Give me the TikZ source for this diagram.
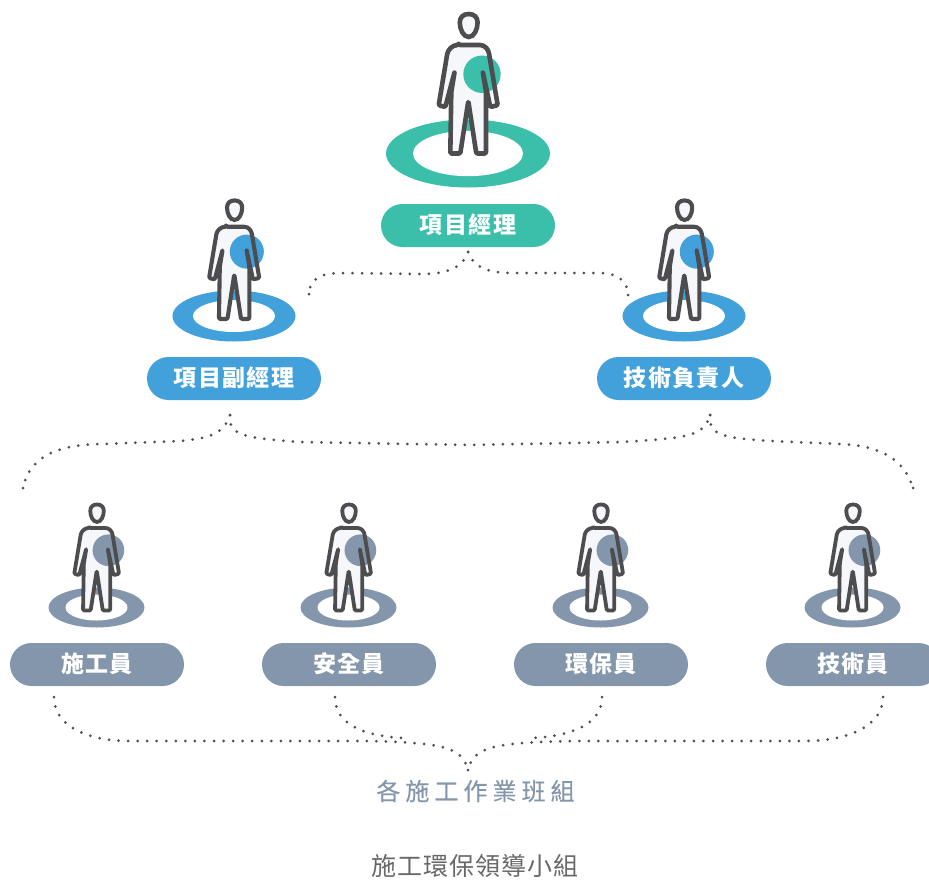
\documentclass[tikz,border=0pt]{standalone}
\usepackage{fontspec}
\newfontfamily\cjk{Noto Sans CJK TC}
\newfontfamily\cjkpill[LetterSpace=6]{Noto Sans CJK TC}
\newfontfamily\cjkteam[LetterSpace=21,FakeBold=0.25]{Noto Sans CJK TC}
\newfontfamily\cjkfoot[LetterSpace=4]{Noto Sans CJK TC}
\definecolor{teal1}{HTML}{3BBFAB}
\definecolor{blue1}{HTML}{42A0DB}
\definecolor{gray1}{HTML}{8496AB}
\definecolor{ink}{HTML}{4D4D4F}
\definecolor{skin}{HTML}{F5F7FA}
\tikzset{
  pill/.style={fill=#1, rounded corners=21.5pt, minimum width=174pt, minimum height=43pt,
     inner sep=0pt, text=white, text height=20pt, text depth=4.6pt,
     font=\cjkpill\bfseries\fontsize{23}{25}\selectfont},
  dots/.style={ink, line width=3pt, line cap=round, dash pattern=on 0pt off 9.55pt},
}
% #1 x, #2 y of the feet, #3 scale, #4 colour, #5 stroke, #6 ring offset, #7 rx/ry, #8 inner rx/ry
\newcommand{\person}[8]{
  \fill[#4] (#1,#2+#6) ellipse [#7];
  \fill[white] (#1,#2+#6) ellipse [#8];
  \begin{scope}[shift={(#1,#2)}, scale=#3]
    \def\body{(-9.3,-108.5) -- (10.7,-108.5) .. controls (17,-108.5) and (20.5,-104) .. (21.3,-98.3)
      -- (29.7,-48.3) -- (22.3,-46.5) -- (14.7,-82) -- (18,-61.7) -- (18,0) -- (8.3,0) -- (0.3,-52.5)
      -- (-7.7,0) -- (-17.7,0) -- (-16.7,-61.7) -- (-13.3,-82) -- (-22.7,-46.5) -- (-29.3,-48.3)
      -- (-21,-98.3) .. controls (-20,-104) and (-15.5,-108.5) .. (-9.3,-108.5) -- cycle}
    \def\head{(0.7,-139.5) .. controls (6.5,-139.5) and (9.6,-136) .. (9.6,-131)
      .. controls (9.6,-124) and (6,-116.5) .. (0.7,-116.5) .. controls (-4.6,-116.5) and (-8.2,-124) .. (-8.2,-131)
      .. controls (-8.2,-136) and (-5,-139.5) .. (0.7,-139.5) -- cycle}
    \pgfmathsetmacro{\rr}{18.7+(1-#3)*9}
    \pgfmathsetmacro{\cx}{14+(1-#3)*7}
    \fill[skin] \body;
    \fill[skin] \head;
    \fill[#4] (\cx,-79.3) circle (\rr);
    \draw[ink, line width=#5, line join=round, rounded corners=1.2pt] \body;
    \draw[ink, line width=#5] \head;
  \end{scope}
}

\begin{document}
\begin{tikzpicture}[x=1pt, y=-1pt]
  \useasboundingbox (0,0) rectangle (929,881);
  \clip (0,0) rectangle (929,881);

  %people
  \person{468}{153.5}{1}{teal1}{4.6pt}{0}{x radius=82, y radius=34}{x radius=55, y radius=22.7}
  \foreach \i in {234,684}{
    \person{\i}{319}{0.85}{blue1}{4.1pt}{-3}{x radius=61.5, y radius=25.5}{x radius=41, y radius=16}
  }
  \foreach \i in {96.5,348.5,600.5,852.5}{
    \person{\i}{610.5}{0.76}{gray1}{3.8pt}{-3}{x radius=48, y radius=20}{x radius=31, y radius=13}
  }

  %labels
  \node[pill=teal1] (pm) at (468,225.5) {項目經理};
  \node[pill=blue1] (vpm) at (234,378.5) {項目副經理};
  \node[pill=blue1] (tech) at (684,378.5) {技術負責人};
  \foreach \i/\num/\name in {97/施工員/w1, 349/安全員/w2, 601/環保員/w3, 853/技術員/w4}{
    \node[pill=gray1] (\name) at (\i,664.5) {\num};
  }
  \node[text=gray1, font=\cjkteam\fontsize{24}{26}\selectfont] (team) at (475.5,791) {各施工作業班組};
  \node[text=ink!85, font=\cjkfoot\fontsize{25}{27}\selectfont] (title) at (475,866) {施工環保領導小組};

  %brace ends
  \coordinate (tipA) at (468,252);
  \coordinate (endAL) at (309,294);
  \coordinate (endAR) at (628,295);
  \coordinate (tipB) at (230,415);
  \coordinate (endBL) at (23,488);
  \coordinate (tipC) at (710,415);
  \coordinate (endCR) at (913,488);
  \coordinate (tipD) at (468,770);
  \coordinate (end1) at (54,697);
  \coordinate (end2) at (335,697);
  \coordinate (end3) at (602,697);
  \coordinate (end4) at (883,697);

  %braces
  \draw[dots] (tipA) .. controls (462,268) and (448,274) .. (420,274) -- (340,273) .. controls (320,273) and (309,280) .. (endAL);
  \draw[dots] (tipA) .. controls (474,268) and (488,273) .. (515,273) -- (600,273) .. controls (618,273) and (628,282) .. (endAR);

  \draw[dots] (tipB) .. controls (224,432) and (214,438) .. (180,441) -- (103,444) .. controls (50,444) and (28,462) .. (endBL);
  \draw[dots] (tipB) .. controls (228,436) and (245,438) .. (300,442) -- (470,445) -- (620,442) .. controls (690,438) and (704,436) .. (tipC);
  \draw[dots] (tipC) .. controls (708,436) and (725,438) .. (770,441) -- (840,444) .. controls (885,446) and (905,462) .. (endCR);

  \draw[dots] (end1) .. controls (54,725) and (85,741) .. (130,741) -- (370,741) .. controls (440,743) and (462,746) .. (tipD);
  \draw[dots] (end2) .. controls (335,725) and (365,736) .. (403,738);
  \draw[dots] (end3) .. controls (602,725) and (570,736) .. (533,738);
  \draw[dots] (end4) .. controls (883,725) and (850,741) .. (805,741) -- (570,741) .. controls (495,743) and (474,746) .. (tipD);

  %last dot of each open end
  \foreach \name in {endAL,endAR,endBL,endCR,tipC,tipD}{
    \fill[ink] (\name) circle (1.5);
  }

\end{tikzpicture}
\end{document}
